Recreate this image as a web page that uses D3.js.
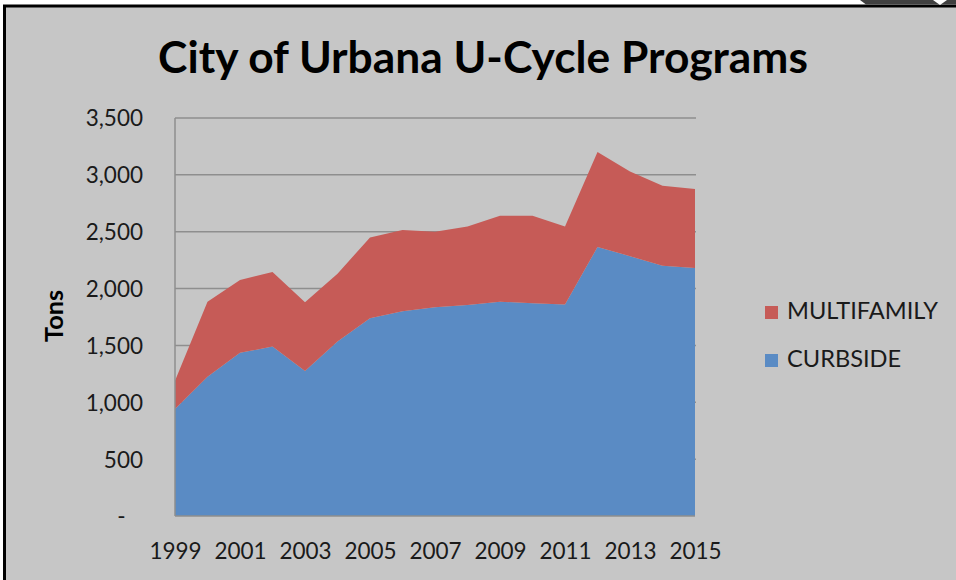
<!DOCTYPE html>
<html>
<head>
<meta charset="utf-8">
<script src="https://cdn.jsdelivr.net/npm/d3@7"></script>
<style>
  body { margin: 0; background: #fff; }
  svg { display: block; font-family: Lato, "Open Sans", sans-serif; }
  .grid line { stroke: #8e8e8e; stroke-width: 1.5; }
  .axis text { fill: #1a1a1a; }
</style>
</head>
<body>
<svg id="chart" width="956" height="580"></svg>
<script>
var years = [1999, 2000, 2001, 2002, 2003, 2004, 2005, 2006, 2007, 2008,
  2009, 2010, 2011, 2012, 2013, 2014, 2015];
var curbside = [940, 1225, 1435, 1490, 1275, 1535, 1740, 1800, 1835, 1855,
  1885, 1870, 1860, 2365, 2285, 2200, 2180];
var multifamily = [250, 660, 640, 655, 605, 595, 710, 715, 665, 690,
  755, 770, 685, 835, 745, 705, 695];
var yTicks = [0, 500, 1000, 1500, 2000, 2500, 3000, 3500];
var xLabels = [1999, 2001, 2003, 2005, 2007, 2009, 2011, 2013, 2015];
var seriesNames = ["CURBSIDE", "MULTIFAMILY"];
var colors = { CURBSIDE: "#5a8bc4", MULTIFAMILY: "#c65b57" };

var svg = d3.select("#chart");

// frame of the screenshot
svg.append("rect").
  attr("x", 4.5).attr("y", 6).
  attr("width", 960).attr("height", 600).
  attr("fill", "#c6c6c6").
  attr("stroke", "#000").
  attr("stroke-width", 3);

svg.append("path").
  attr("d", "M860,0 L956,0 L956,4.5 L866,4.5 Z").
  attr("fill", "#404040");
svg.append("path").
  attr("d", "M933,0 L947,0 L940,5 Z").
  attr("fill", "#fff");

var margin = { top: 118, left: 175 };
var width = 520, height = 398;

var x = d3.scaleLinear().
  domain([years[0], years[years.length - 1]]).
  range([0, width]);

var y = d3.scaleLinear().
  domain([0, 3500]).
  range([height, 0]);

var rows = years.map(function(yr, i) {
  return { year: yr, CURBSIDE: curbside[i], MULTIFAMILY: multifamily[i] };
});

var stack = d3.stack().keys(seriesNames);
var layers = stack(rows);

var g = svg.append("g").
  attr("transform", "translate(" + margin.left + "," + margin.top + ")");

g.append("g").
  attr("class", "grid").
  selectAll("line").
  data(yTicks.slice(1)).
  enter().append("line").
  attr("x1", 0).attr("x2", width + 1).
  attr("y1", function(d) { return y(d); }).
  attr("y2", function(d) { return y(d); });

var area = d3.area().
  x(function(d) { return x(d.data.year); }).
  y0(function(d) { return y(d[0]); }).
  y1(function(d) { return y(d[1]); });

g.selectAll(".layer").
  data(layers).
  enter().append("path").
  attr("class", "layer").
  attr("fill", function(d) { return colors[d.key]; }).
  attr("d", area);

// axis lines
g.append("line").
  attr("x1", 0).attr("x2", 0).
  attr("y1", 0).attr("y2", height).
  attr("stroke", "#8e8e8e").attr("stroke-width", 1.5);
g.append("line").
  attr("x1", 0).attr("x2", width).
  attr("y1", height).attr("y2", height).
  attr("stroke", "#8e8e8e").attr("stroke-width", 1.5);

var fmt = d3.format(",");

var yAxis = d3.axisLeft(y).
  tickValues(yTicks).
  tickSize(0).
  tickPadding(32).
  tickFormat(function(d) { return d === 0 ? "-   " : fmt(d); });

var gy = g.append("g").attr("class", "axis").call(yAxis);
gy.select(".domain").remove();
gy.selectAll("text").
  attr("font-size", 22.5).
  attr("font-family", "Lato, sans-serif").
  style("white-space", "pre").
  attr("dy", "0.35em");

var xAxis = d3.axisBottom(x).
  tickValues(xLabels).
  tickSize(0).
  tickPadding(27).
  tickFormat(d3.format("d"));

var gx = g.append("g").
  attr("class", "axis").
  attr("transform", "translate(0," + height + ")").
  call(xAxis);
gx.select(".domain").remove();
gx.selectAll("text").
  attr("font-size", 22.5).
  attr("font-family", "Lato, sans-serif");

function fit(sel, w) {
  var l = sel.node().getComputedTextLength();
  var fs = parseFloat(sel.attr("font-size"));
  sel.attr("font-size", fs * w / l);
}

var title = svg.append("text").
  attr("x", 483).
  attr("y", 73).
  attr("text-anchor", "middle").
  attr("font-size", 40).
  attr("font-weight", "bold").
  attr("fill", "#000").
  text("City of Urbana U-Cycle Programs");
fit(title, 650);

var yTitle = svg.append("text").
  attr("transform", "translate(63,316) rotate(-90)").
  attr("text-anchor", "middle").
  attr("font-size", 20).
  attr("font-weight", "bold").
  attr("fill", "#000").
  text("Tons");
fit(yTitle, 52);

// legend, multifamily on top
var legend = svg.append("g").
  selectAll("g").
  data(seriesNames.slice().reverse()).
  enter().append("g").
  attr("transform", function(d, i) { return "translate(765," + (306 + i * 48) + ")"; });

legend.append("rect").
  attr("width", 13).attr("height", 13).
  attr("fill", function(d) { return colors[d]; });

var legendText = legend.append("text").
  attr("x", 22).
  attr("y", 13).
  attr("font-size", 22).
  attr("fill", "#1a1a1a").
  text(function(d) { return d; });

// size both labels from the wider one
var first = legendText.filter(function(d) { return d === "MULTIFAMILY"; });
fit(first, 151);
legendText.attr("font-size", first.attr("font-size"));
</script>
</body>
</html>
